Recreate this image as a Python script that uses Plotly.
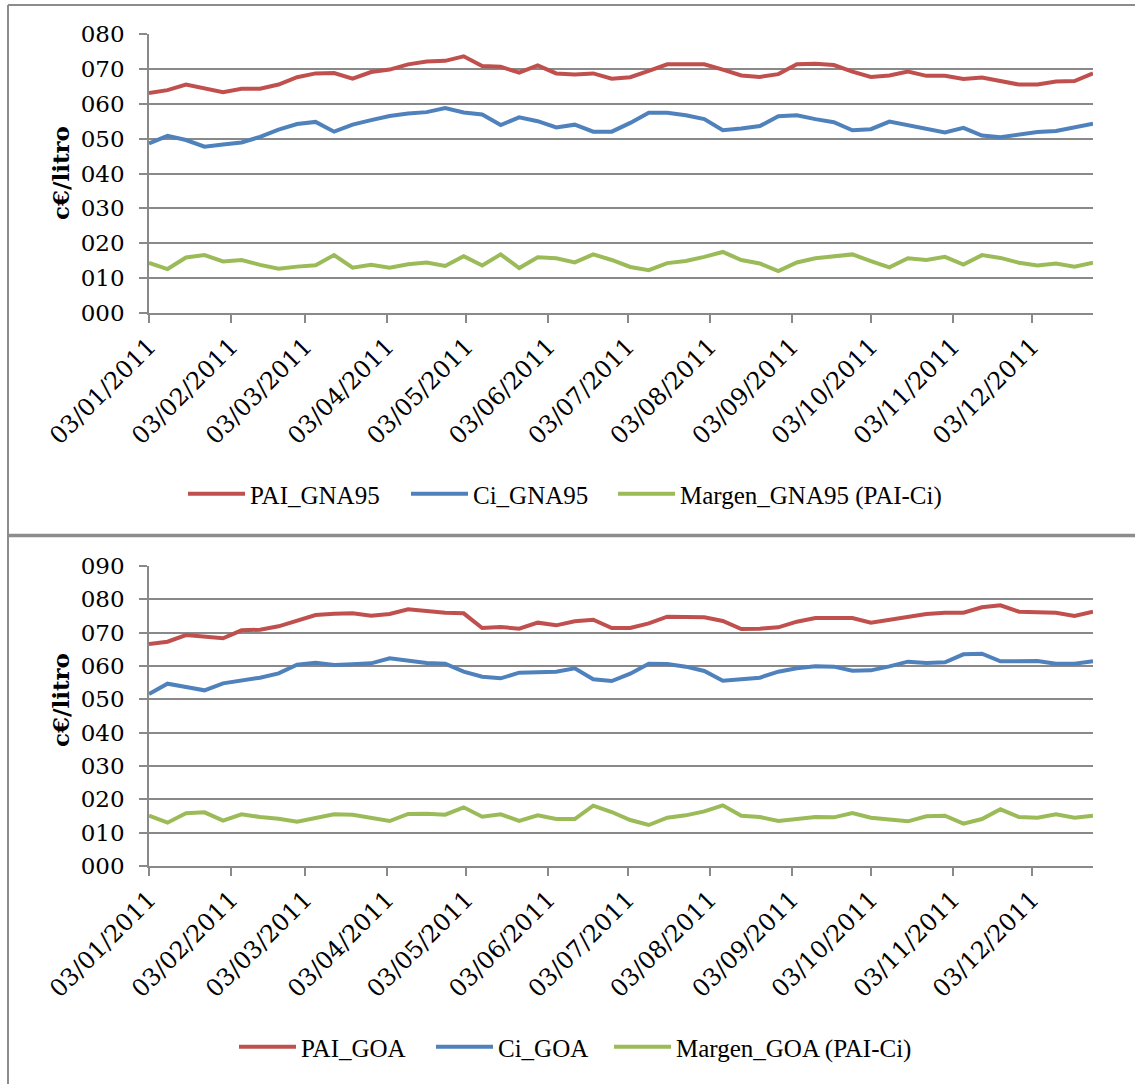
"""
plot.py — PAI, Ci y margen semanales 2011: gasolina 95 (arriba) y gasóleo A (abajo).
"""

import plotly.graph_objects as go

W, H = 1135, 1084

FECHAS = [
    "2011-01-03", "2011-01-10", "2011-01-17", "2011-01-24", "2011-01-31",
    "2011-02-07", "2011-02-14", "2011-02-21", "2011-02-28",
    "2011-03-07", "2011-03-14", "2011-03-21", "2011-03-28",
    "2011-04-04", "2011-04-11", "2011-04-18", "2011-04-25",
    "2011-05-02", "2011-05-09", "2011-05-16", "2011-05-23", "2011-05-30",
    "2011-06-06", "2011-06-13", "2011-06-20", "2011-06-27",
    "2011-07-04", "2011-07-11", "2011-07-18", "2011-07-25",
    "2011-08-01", "2011-08-08", "2011-08-15", "2011-08-22", "2011-08-29",
    "2011-09-05", "2011-09-12", "2011-09-19", "2011-09-26",
    "2011-10-03", "2011-10-10", "2011-10-17", "2011-10-24", "2011-10-31",
    "2011-11-07", "2011-11-14", "2011-11-21", "2011-11-28",
    "2011-12-05", "2011-12-12", "2011-12-19", "2011-12-26",
]

TICK_VALS = [
    "2011-01-03", "2011-02-03", "2011-03-03", "2011-04-03", "2011-05-03", "2011-06-03",
    "2011-07-03", "2011-08-03", "2011-09-03", "2011-10-03", "2011-11-03", "2011-12-03",
]
TICK_TEXT = [
    "03/01/2011", "03/02/2011", "03/03/2011", "03/04/2011", "03/05/2011", "03/06/2011",
    "03/07/2011", "03/08/2011", "03/09/2011", "03/10/2011", "03/11/2011", "03/12/2011",
]

# c€/litro, gasolina 95
PAI_GNA95 = [
    63.1, 63.9, 65.5, 64.4, 63.3, 64.3, 64.3, 65.5, 67.6, 68.7, 68.8, 67.2, 69.1,
    69.8, 71.3, 72.1, 72.3, 73.6, 70.8, 70.6, 68.9, 71.0, 68.7, 68.4, 68.7, 67.2,
    67.6, 69.4, 71.3, 71.3, 71.3, 69.8, 68.1, 67.7, 68.5, 71.3, 71.5, 71.1, 69.2,
    67.7, 68.1, 69.2, 68.0, 68.0, 67.1, 67.5, 66.4, 65.5, 65.5, 66.4, 66.5, 68.7,
]
CI_GNA95 = [
    48.6, 50.8, 49.6, 47.7, 48.3, 48.9, 50.5, 52.6, 54.2, 54.8, 52.0, 54.0, 55.3,
    56.5, 57.2, 57.6, 58.8, 57.5, 56.9, 53.9, 56.1, 55.0, 53.2, 54.0, 52.0, 52.0,
    54.5, 57.4, 57.4, 56.7, 55.6, 52.4, 52.9, 53.6, 56.4, 56.7, 55.6, 54.7, 52.4,
    52.7, 54.9, 53.8, 52.8, 51.8, 53.1, 50.9, 50.4, 51.1, 51.9, 52.2, 53.2, 54.3,
]
MARGEN_GNA95 = [
    14.4, 12.6, 15.9, 16.6, 14.8, 15.2, 13.8, 12.7, 13.3, 13.7, 16.6, 13.0, 13.8,
    13.0, 14.0, 14.5, 13.5, 16.3, 13.6, 16.8, 12.9, 16.0, 15.7, 14.5, 16.8, 15.2,
    13.2, 12.3, 14.3, 14.9, 16.1, 17.5, 15.2, 14.2, 12.0, 14.5, 15.7, 16.3, 16.8,
    14.9, 13.1, 15.7, 15.2, 16.1, 13.9, 16.6, 15.8, 14.4, 13.6, 14.2, 13.3, 14.4,
]

# c€/litro, gasóleo A
PAI_GOA = [
    66.6, 67.3, 69.3, 68.8, 68.3, 70.7, 70.9, 71.9, 73.7, 75.3, 75.7, 75.8, 75.1,
    75.6, 77.0, 76.5, 76.0, 75.8, 71.4, 71.7, 71.2, 73.0, 72.2, 73.4, 73.9, 71.4,
    71.4, 72.8, 74.8, 74.7, 74.6, 73.5, 71.1, 71.2, 71.6, 73.3, 74.4, 74.4, 74.4,
    73.0, 73.8, 74.7, 75.6, 76.0, 76.0, 77.6, 78.2, 76.3, 76.0, 76.0, 75.0, 76.3,
]
CI_GOA = [
    51.6, 54.7, 53.7, 52.7, 54.8, 55.5, 56.5, 57.8, 60.4, 61.0, 60.3, 60.5, 60.8,
    62.3, 61.5, 60.9, 60.7, 58.3, 56.8, 56.3, 58.0, 58.1, 58.3, 59.3, 56.0, 55.5,
    57.7, 60.7, 60.6, 59.8, 58.5, 55.6, 56.1, 56.5, 58.3, 59.3, 59.9, 59.8, 58.6,
    58.7, 59.9, 61.3, 60.9, 61.1, 63.5, 63.7, 61.4, 61.5, 61.5, 60.7, 60.7, 61.4,
]
MARGEN_GOA = [
    15.1, 13.0, 15.8, 16.1, 13.6, 15.5, 14.7, 14.2, 13.3, 14.5, 15.5, 15.4, 14.6,
    13.5, 15.6, 15.7, 15.4, 17.6, 14.8, 15.5, 13.5, 15.2, 14.1, 14.1, 18.1, 16.2,
    13.8, 12.3, 14.5, 15.2, 16.4, 18.2, 15.1, 14.7, 13.5, 14.1, 14.7, 14.6, 15.9,
    14.5, 14.0, 13.4, 14.9, 15.1, 12.7, 14.1, 17.0, 14.7, 14.5, 15.5, 14.5, 15.1,
]

RED   = "#C0504D"
BLUE  = "#4F81BD"
GREEN = "#9BBB59"
GRID  = "#898989"
FRAME = "#8C8C8C"

TICK_FONT   = "DejaVu Serif"
LEGEND_FONT = "Liberation Serif"

# una leyenda por serie: (inicio de la línea en px, centro vertical en px)
LEGEND_SPOTS = {
    "legend":  (190, 494),
    "legend2": (413, 494),
    "legend3": (620, 494),
    "legend4": (241, 1047),
    "legend5": (438, 1047),
    "legend6": (616, 1047),
}


def px_x(x: float) -> float:
    return x / W


def px_y(y: float) -> float:
    return 1 - y / H


def add_panel(fig, series, xref, yref, legends):
    for (name, values, color), legend_name in zip(series, legends):
        fig.add_trace(
            go.Scatter(
                x=FECHAS,
                y=values,
                name=name,
                mode="lines",
                line=dict(color=color, width=4),
                xaxis=xref,
                yaxis=yref,
                legend=legend_name,
            )
        )


def x_axis(domain, anchor):
    return dict(
        domain=domain,
        anchor=anchor,
        automargin=False,
        type="date",
        range=[FECHAS[0], FECHAS[-1]],
        tickvals=TICK_VALS,
        ticktext=TICK_TEXT,
        tickangle=-45,
        tickfont=dict(family=TICK_FONT, size=24, color="black"),
        ticks="outside",
        ticklen=8,
        tickwidth=1.5,
        tickcolor=GRID,
        showgrid=False,
        showline=True,
        linecolor=GRID,
        linewidth=1.5,
        zeroline=False,
        fixedrange=True,
    )


def y_axis(domain, anchor, top):
    return dict(
        domain=domain,
        anchor=anchor,
        automargin=False,
        range=[0, top],
        dtick=10,
        tick0=0,
        tickformat="03d",
        tickfont=dict(family=TICK_FONT, size=23, color="black"),
        ticks="outside",
        ticklen=8,
        tickwidth=1.5,
        tickcolor=GRID,
        ticklabelstandoff=10,
        showgrid=True,
        gridcolor=GRID,
        gridwidth=1.5,
        showline=True,
        linecolor=GRID,
        linewidth=1.5,
        zeroline=False,
        fixedrange=True,
    )


def legend_box(line_start, y_mid):
    # la línea del símbolo empieza ~7 px a la derecha del borde de la leyenda
    return dict(
        orientation="h",
        xanchor="left",
        yanchor="middle",
        x=px_x(line_start - 7),
        y=px_y(y_mid),
        font=dict(family=LEGEND_FONT, size=25, color="black"),
        bgcolor="rgba(0,0,0,0)",
        itemwidth=57,
    )


def build_figure() -> go.Figure:
    fig = go.Figure()

    add_panel(
        fig,
        [
            ("PAI_GNA95", PAI_GNA95, RED),
            ("Ci_GNA95", CI_GNA95, BLUE),
            ("Margen_GNA95 (PAI-Ci)", MARGEN_GNA95, GREEN),
        ],
        "x", "y", ["legend", "legend2", "legend3"],
    )
    add_panel(
        fig,
        [
            ("PAI_GOA", PAI_GOA, RED),
            ("Ci_GOA", CI_GOA, BLUE),
            ("Margen_GOA (PAI-Ci)", MARGEN_GOA, GREEN),
        ],
        "x2", "y2", ["legend4", "legend5", "legend6"],
    )

    x_dom = [px_x(149), px_x(1093)]

    fig.update_layout(
        width=W,
        height=H,
        autosize=False,
        margin=dict(l=0, r=0, t=0, b=0, pad=0, autoexpand=False),
        paper_bgcolor="white",
        plot_bgcolor="white",
        showlegend=True,
        xaxis=x_axis(x_dom, "y"),
        yaxis=y_axis([px_y(313), px_y(34)], "x", 80),
        xaxis2=x_axis(x_dom, "y2"),
        yaxis2=y_axis([px_y(866), px_y(566)], "x2", 90),
        **{name: legend_box(*spot) for name, spot in LEGEND_SPOTS.items()},
    )

    # Eje Y: c€/litro en negrita, vertical
    for yc in (173, 700):
        fig.add_annotation(
            text="<b>c€/litro</b>",
            xref="paper", yref="paper",
            x=px_x(60), y=px_y(yc),
            xanchor="center", yanchor="middle",
            textangle=-90,
            showarrow=False,
            font=dict(family=TICK_FONT, size=23, color="black"),
        )

    # Marcos de los dos gráficos
    frame = dict(type="line", xref="paper", yref="paper", line=dict(color=FRAME, width=2))
    fig.add_shape(frame, x0=px_x(8), x1=1, y0=px_y(5), y1=px_y(5))
    fig.add_shape(frame, x0=px_x(8), x1=px_x(8), y0=px_y(5), y1=0)
    fig.add_shape(dict(frame, line=dict(color=FRAME, width=3.5)),
                  x0=px_x(8), x1=1, y0=px_y(535.5), y1=px_y(535.5))

    return fig


def main() -> None:
    fig = build_figure()
    # sin margen del <body>, la figura ocupa la ventana desde (0, 0)
    fig.write_html(
        "out.html",
        config={"displayModeBar": False},
        post_script="document.body.style.margin = '0px';",
    )


if __name__ == "__main__":
    main()
